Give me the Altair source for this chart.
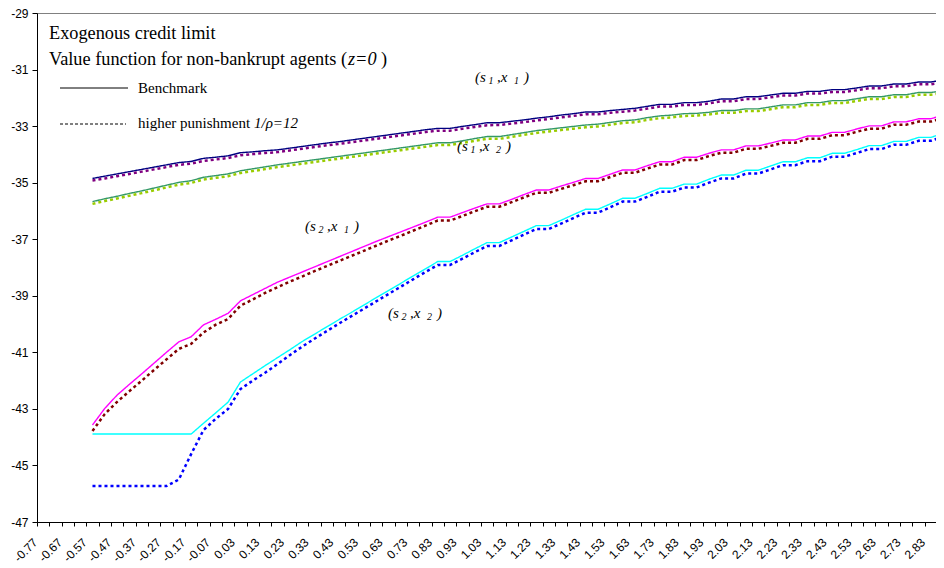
import json
import altair as alt
import pandas as pd

# ---------------- data ----------------
categories = ["-0.77", "-0.72", "-0.67", "-0.62", "-0.57", "-0.52", "-0.47", "-0.42", "-0.37", "-0.32",
              "-0.27", "-0.22", "-0.17", "-0.12", "-0.07", "-0.02", "0.03", "0.08", "0.13", "0.18",
              "0.23", "0.28", "0.33", "0.38", "0.43", "0.48", "0.53", "0.58", "0.63", "0.68",
              "0.73", "0.78", "0.83", "0.88", "0.93", "0.98", "1.03", "1.08", "1.13", "1.18",
              "1.23", "1.28", "1.33", "1.38", "1.43", "1.48", "1.53", "1.58", "1.63", "1.68",
              "1.73", "1.78", "1.83", "1.88", "1.93", "1.98", "2.03", "2.08", "2.13", "2.18",
              "2.23", "2.28", "2.33", "2.38", "2.43", "2.48", "2.53", "2.58", "2.63", "2.68",
              "2.73", "2.78", "2.83", "2.88"]
labelled_categories = categories[::2]
series_x = categories[4:]

s1x1_bench = [-34.85, -34.77, -34.69, -34.61, -34.53, -34.45, -34.37, -34.29, -34.25, -34.14,
              -34.10, -34.05, -33.94, -33.91, -33.87, -33.84, -33.78, -33.72, -33.66, -33.60,
              -33.55, -33.49, -33.43, -33.37, -33.31, -33.25, -33.19, -33.13, -33.08, -33.08,
              -33.01, -32.95, -32.88, -32.88, -32.83, -32.78, -32.72, -32.67, -32.61, -32.56,
              -32.50, -32.50, -32.45, -32.41, -32.37, -32.30, -32.23, -32.23, -32.17, -32.17,
              -32.12, -32.04, -32.04, -31.96, -31.96, -31.90, -31.84, -31.84, -31.77, -31.77,
              -31.71, -31.71, -31.65, -31.58, -31.58, -31.51, -31.51, -31.44, -31.44, -31.37]
s1x1_pun = [-34.92, -34.85, -34.77, -34.69, -34.61, -34.53, -34.45, -34.37, -34.33, -34.23,
            -34.18, -34.13, -34.03, -33.99, -33.95, -33.92, -33.86, -33.80, -33.74, -33.68,
            -33.63, -33.57, -33.51, -33.45, -33.39, -33.33, -33.27, -33.21, -33.16, -33.16,
            -33.09, -33.03, -32.97, -32.96, -32.91, -32.86, -32.80, -32.75, -32.69, -32.64,
            -32.58, -32.58, -32.53, -32.49, -32.45, -32.38, -32.31, -32.31, -32.25, -32.25,
            -32.20, -32.12, -32.12, -32.04, -32.04, -31.98, -31.92, -31.92, -31.85, -31.85,
            -31.79, -31.79, -31.73, -31.66, -31.66, -31.59, -31.59, -31.52, -31.52, -31.45]
s1x2_bench = [-35.67, -35.57, -35.48, -35.38, -35.29, -35.19, -35.09, -34.99, -34.93, -34.81,
              -34.75, -34.69, -34.58, -34.51, -34.44, -34.37, -34.31, -34.25, -34.19, -34.13,
              -34.07, -34.01, -33.95, -33.89, -33.83, -33.77, -33.71, -33.65, -33.59, -33.59,
              -33.52, -33.44, -33.37, -33.37, -33.30, -33.23, -33.16, -33.11, -33.06, -33.01,
              -32.96, -32.93, -32.87, -32.81, -32.78, -32.70, -32.64, -32.61, -32.56, -32.55,
              -32.51, -32.45, -32.45, -32.39, -32.39, -32.32, -32.25, -32.25, -32.17, -32.17,
              -32.10, -32.10, -32.03, -31.96, -31.96, -31.89, -31.89, -31.81, -31.81, -31.75]
s1x2_pun = [-35.75, -35.65, -35.56, -35.46, -35.37, -35.27, -35.17, -35.07, -35.01, -34.89,
            -34.83, -34.77, -34.66, -34.59, -34.52, -34.45, -34.39, -34.33, -34.27, -34.21,
            -34.15, -34.09, -34.03, -33.97, -33.91, -33.85, -33.79, -33.73, -33.67, -33.67,
            -33.60, -33.52, -33.45, -33.45, -33.38, -33.31, -33.24, -33.19, -33.14, -33.09,
            -33.04, -33.01, -32.95, -32.89, -32.86, -32.78, -32.72, -32.69, -32.64, -32.63,
            -32.59, -32.53, -32.53, -32.47, -32.47, -32.40, -32.33, -32.33, -32.25, -32.25,
            -32.18, -32.18, -32.11, -32.04, -32.04, -31.97, -31.97, -31.89, -31.89, -31.83]
s2x1_bench = [-43.57, -42.98, -42.51, -42.13, -41.76, -41.38, -41.00, -40.63, -40.45, -40.03,
              -39.83, -39.62, -39.18, -38.96, -38.74, -38.52, -38.34, -38.16, -37.98, -37.80,
              -37.62, -37.44, -37.26, -37.08, -36.91, -36.74, -36.57, -36.40, -36.22, -36.22,
              -36.06, -35.90, -35.75, -35.75, -35.59, -35.42, -35.26, -35.26, -35.12, -34.99,
              -34.85, -34.85, -34.70, -34.55, -34.55, -34.40, -34.26, -34.26, -34.10, -34.10,
              -33.96, -33.84, -33.84, -33.70, -33.70, -33.60, -33.49, -33.49, -33.35, -33.35,
              -33.22, -33.22, -33.10, -32.99, -32.99, -32.85, -32.85, -32.74, -32.74, -32.61]
s2x1_pun = [-43.78, -43.18, -42.75, -42.37, -42.00, -41.62, -41.25, -40.88, -40.70, -40.30,
            -40.02, -39.82, -39.35, -39.13, -38.90, -38.70, -38.50, -38.32, -38.13, -37.95,
            -37.77, -37.59, -37.41, -37.23, -37.05, -36.88, -36.70, -36.52, -36.34, -36.34,
            -36.18, -36.01, -35.85, -35.85, -35.69, -35.52, -35.36, -35.36, -35.22, -35.09,
            -34.95, -34.95, -34.80, -34.65, -34.65, -34.50, -34.36, -34.36, -34.20, -34.20,
            -34.06, -33.94, -33.94, -33.80, -33.80, -33.70, -33.59, -33.59, -33.45, -33.45,
            -33.32, -33.32, -33.20, -33.09, -33.09, -32.95, -32.95, -32.84, -32.84, -32.71]
s2x2_bench = [-43.89, -43.89, -43.89, -43.89, -43.89, -43.89, -43.89, -43.89, -43.89, -43.51,
              -43.14, -42.76, -42.05, -41.76, -41.47, -41.19, -40.91, -40.62, -40.36, -40.10,
              -39.84, -39.59, -39.33, -39.07, -38.82, -38.56, -38.30, -38.05, -37.79, -37.79,
              -37.57, -37.34, -37.12, -37.12, -36.92, -36.72, -36.52, -36.52, -36.33, -36.13,
              -35.94, -35.94, -35.75, -35.55, -35.55, -35.38, -35.20, -35.20, -35.05, -35.05,
              -34.88, -34.73, -34.73, -34.56, -34.56, -34.41, -34.26, -34.26, -34.12, -34.12,
              -33.96, -33.96, -33.83, -33.69, -33.69, -33.54, -33.54, -33.40, -33.40, -33.25]
s2x2_pun = [-45.73, -45.73, -45.73, -45.73, -45.73, -45.73, -45.73, -45.50, -44.60, -43.75,
            -43.35, -43.00, -42.30, -42.00, -41.72, -41.42, -41.10, -40.80, -40.52, -40.25,
            -39.98, -39.72, -39.46, -39.20, -38.94, -38.68, -38.42, -38.16, -37.91, -37.91,
            -37.69, -37.46, -37.24, -37.24, -37.04, -36.84, -36.64, -36.64, -36.45, -36.25,
            -36.06, -36.06, -35.87, -35.67, -35.67, -35.50, -35.32, -35.32, -35.17, -35.17,
            -35.00, -34.85, -34.85, -34.68, -34.68, -34.53, -34.38, -34.38, -34.24, -34.24,
            -34.08, -34.08, -33.95, -33.81, -33.81, -33.66, -33.66, -33.52, -33.52, -33.37]

series_names = ["s1x1 benchmark", "s1x1 punishment", "s1x2 benchmark", "s1x2 punishment",
                "s2x1 benchmark", "s2x1 punishment", "s2x2 benchmark", "s2x2 punishment"]
series_styles = ["solid", "dotted", "solid", "dotted", "solid", "dotted", "solid", "dotted"]
series_values = [s1x1_bench, s1x1_pun, s1x2_bench, s1x2_pun, s2x1_bench, s2x1_pun, s2x2_bench, s2x2_pun]
series_colors = ["#000080", "#800080", "#339966", "#99CC00", "#FF00FF", "#800000", "#00FFFF", "#0000FF"]

y_ticks = [-47, -45, -43, -41, -39, -37, -35, -33, -31, -29]

title_lines = ["Exogenous credit limit", "Value function for non-bankrupt agents (", "z=0", " )"]
legend_texts = ["Benchmark", "higher punishment ", "1/\u03c1=12"]
# curve labels: (s_a ,x_b)
curve_label_state = ["1", "1", "2", "2"]
curve_label_x = ["1", "2", "1", "2"]

# ---------------- table ----------------
rows = []
for name, style, vals in zip(series_names, series_styles, series_values):
    assert len(vals) == len(series_x), (name, len(vals))
    for k, (xc, v) in enumerate(zip(series_x, vals)):
        rows.append({"x": xc, "v": v, "series": name, "style": style, "idx": k})
df = pd.DataFrame(rows)

PLOT_W = 899
PLOT_H = 509
STEP = 12.33
RANGE_W = STEP * len(categories)

label_expr = "indexof(" + json.dumps(labelled_categories) + ", datum.value) >= 0 ? datum.value : ''"

serif = "Liberation Serif"
sans = "Liberation Sans"

lines = alt.Chart(df).mark_line(strokeCap="butt").encode(
    x=alt.X("x:N", sort=categories,
            scale=alt.Scale(type="point", domain=categories, padding=0.5, range=[0, RANGE_W]),
            axis=alt.Axis(title=None, grid=False, labelExpr=label_expr, labelAngle=-45,
                          labelAlign="right", labelBaseline="middle", labelPadding=14,
                          tickOffset=-STEP / 2, labelOffset=-2, tickSize=4,
                          labelFont=sans, labelFontSize=12, labelColor="black",
                          domainColor="black", tickColor="black", labelOverlap=False,
                          labelBound=False)),
    y=alt.Y("v:Q", scale=alt.Scale(domain=[-47, -29], nice=False, zero=False),
            axis=alt.Axis(title=None, grid=False, values=y_ticks, labelExpr="'' + datum.value",
                          tickSize=5, labelPadding=4, labelFont=sans, labelFontSize=12,
                          labelColor="black", domainColor="black", tickColor="black")),
    color=alt.Color("series:N", scale=alt.Scale(domain=series_names, range=series_colors), legend=None),
    strokeDash=alt.StrokeDash("style:N", scale=alt.Scale(domain=["solid", "dotted"], range=[[1, 0], [3, 3]]), legend=None),
    strokeWidth=alt.StrokeWidth("style:N", scale=alt.Scale(domain=["solid", "dotted"], range=[1.4, 2.5]), legend=None),
    order=alt.Order("idx:Q"),
)

one = alt.Data(values=[{}])


def text_at(txt, px, py, size, style="normal", align="left", baseline="alphabetic"):
    return alt.Chart(one).mark_text(font=serif, fontSize=size, fontStyle=style, align=align,
                                    baseline=baseline, color="black").encode(
        x=alt.value(px), y=alt.value(py), text=alt.value(txt))


def rule_at(x1, x2, y, dash):
    return alt.Chart(one).mark_rule(color="black", strokeWidth=1, strokeDash=dash).encode(
        x=alt.value(x1), x2=alt.value(x2), y=alt.value(y))


def curve_label(x0, base, a, b):
    return [
        text_at("(s", x0, base, 15, "italic"),
        text_at(a, x0 + 13.5, base + 1.5, 10, "italic"),
        text_at(" ,x", x0 + 22, base, 15, "italic"),
        text_at(b, x0 + 39, base + 1.5, 10, "italic"),
        text_at(")", x0 + 49, base, 15, "italic"),
    ]


annotations = [
    text_at(title_lines[0], 12, 26, 18.3),
    text_at(title_lines[1], 12, 52, 18.3),
    text_at(title_lines[2], 311, 52, 18.3, "italic"),
    text_at(title_lines[3], 344, 52, 18.3),
    rule_at(23, 91, 75, [1, 0]),
    text_at(legend_texts[0], 101, 80, 15),
    rule_at(23, 89, 111, [3, 2]),
    text_at(legend_texts[1], 101, 115, 15),
    text_at(legend_texts[2], 217, 115, 15, "italic"),
]
annotations += curve_label(438, 69, curve_label_state[0], curve_label_x[0])
annotations += curve_label(420, 138, curve_label_state[1], curve_label_x[1])
annotations += curve_label(268, 218, curve_label_state[2], curve_label_x[2])
annotations += curve_label(351, 305, curve_label_state[3], curve_label_x[3])

chart = alt.layer(lines, *annotations).properties(
    width=PLOT_W, height=PLOT_H,
    autosize=alt.AutoSizeParams(type="none"),
    padding={"left": 29, "top": 5, "right": 0, "bottom": 46},
    background="white",
).configure_view(stroke="#808080", strokeWidth=1)

chart.save("out.html", embed_options={"renderer": "svg", "actions": False})
